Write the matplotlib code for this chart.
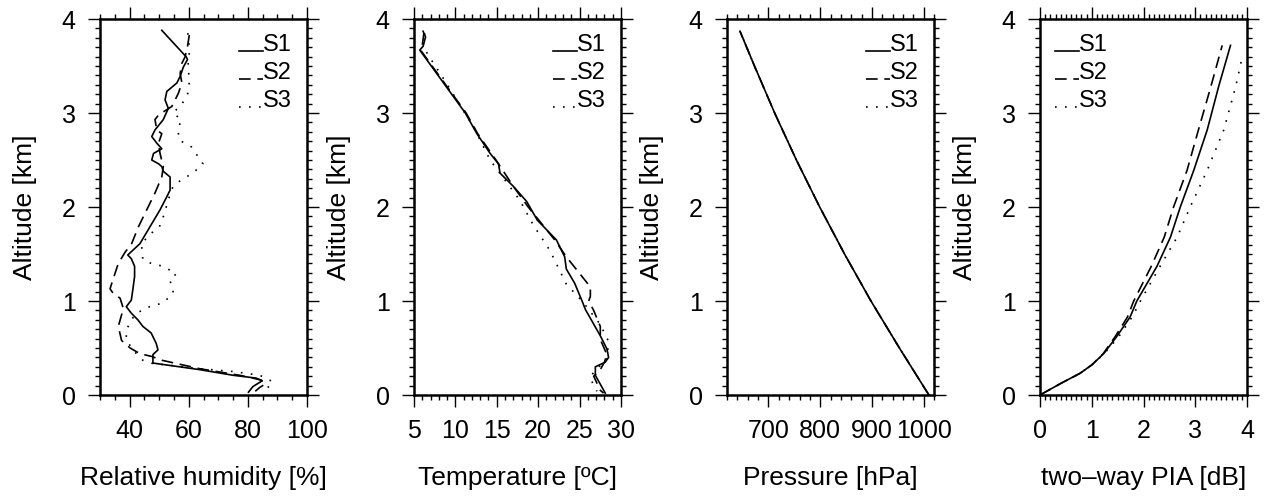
import matplotlib
matplotlib.use('Agg')
import matplotlib.pyplot as plt
from matplotlib.ticker import MultipleLocator
from matplotlib.legend_handler import HandlerLine2D

plt.rcParams['font.family'] = ['Liberation Sans', 'DejaVu Sans']

# Relative humidity profiles [%] vs altitude [km]
rh_s1_z = [3.88, 3.60, 3.57, 3.49, 3.39, 3.32, 3.23, 3.14, 3.05, 2.93, 2.82, 2.75,
           2.68, 2.62, 2.57, 2.50, 2.46, 2.43, 2.38, 2.32, 2.18, 2.11, 1.97, 1.79,
           1.61, 1.49, 1.45, 1.37, 1.26, 1.12, 1.01, 0.94, 0.87, 0.80, 0.73, 0.66,
           0.55, 0.48, 0.43, 0.34, 0.32, 0.27, 0.21, 0.18, 0.15, 0.09, 0.03]
rh_s1 = [50.9, 59.1, 59.6, 58.2, 57.1, 56.0, 52.6, 52.0, 53.1, 51.4, 48.6, 47.5,
         49.2, 50.9, 48.1, 47.5, 49.8, 50.9, 51.4, 53.7, 53.7, 52.6, 50.3, 46.9,
         43.5, 39.4, 40.6, 41.7, 41.7, 41.1, 40.6, 38.9, 40.6, 42.8, 44.5, 47.3,
         49.0, 49.6, 47.9, 47.9, 52.4, 63.7, 75.0, 82.8, 84.8, 81.7, 80.2]

rh_s2_z = [3.83, 3.71, 3.60, 3.53, 3.42, 3.32, 3.21, 3.07, 2.98, 2.93, 2.82, 2.78,
           2.68, 2.57, 2.43, 2.32, 2.15, 1.97, 1.79, 1.61, 1.52, 1.40, 1.19, 1.13,
           1.08, 1.03, 0.92, 0.73, 0.58, 0.50, 0.44, 0.41, 0.37, 0.28, 0.21, 0.16,
           0.12, 0.08, 0.04]
rh_s2 = [60.2, 59.6, 58.8, 57.7, 57.1, 57.7, 56.5, 54.3, 49.8, 48.6, 49.2, 50.9,
         49.8, 50.3, 51.4, 50.9, 48.6, 45.8, 43.0, 40.7, 38.5, 36.2, 34.0, 33.4,
         34.5, 36.8, 37.9, 36.2, 37.3, 40.2, 43.5, 47.5, 50.9, 63.7, 77.2, 84.5,
         86.0, 84.0, 82.5]

rh_s3_z = [3.85, 3.67, 3.49, 3.35, 3.21, 3.10, 3.00, 2.93, 2.82, 2.71, 2.64, 2.46,
           2.36, 2.29, 2.22, 2.07, 1.93, 1.79, 1.72, 1.61, 1.44, 1.40, 1.37, 1.29,
           1.22, 1.15, 1.08, 0.98, 0.94, 0.87, 0.80, 0.69, 0.59, 0.48, 0.37, 0.34,
           0.32, 0.28, 0.25, 0.21, 0.16, 0.12, 0.07, 0.03]
rh_s3 = [59.7, 60.3, 59.7, 60.3, 59.7, 57.8, 54.7, 57.5, 56.3, 56.9, 60.9, 64.8,
         61.4, 57.5, 54.7, 53.0, 51.8, 50.1, 47.3, 44.0, 44.5, 47.3, 51.3, 55.8,
         53.5, 54.7, 54.7, 51.3, 46.8, 42.3, 40.6, 38.9, 38.9, 41.1, 44.5, 46.8,
         52.4, 63.7, 75.0, 84.0, 87.4, 88.5, 86.2, 86.8]

# Temperature profiles [degC]
t_s1_z = [3.87, 3.81, 3.71, 3.67, 3.00, 2.78, 2.57, 2.46, 2.36, 2.22, 2.06, 1.86,
          1.65, 1.47, 1.34, 1.19, 1.00, 0.91, 0.63, 0.49, 0.40, 0.35, 0.30, 0.21, 0.02]
t_s1 = [6.1, 6.4, 6.1, 5.7, 11.2, 12.6, 14.2, 15.2, 15.4, 17.0, 18.6, 19.9,
        22.2, 23.2, 23.4, 24.4, 25.3, 25.7, 27.5, 28.3, 28.5, 28.1, 26.9, 26.9, 28.1]

t_s2_z = [3.85, 3.72, 3.67, 3.00, 2.78, 2.50, 2.22, 2.00, 1.65, 1.47, 1.15, 1.05,
          1.00, 0.90, 0.73, 0.59, 0.43, 0.35, 0.27, 0.20, 0.05, 0.02]
t_s2 = [6.2, 6.0, 5.8, 11.3, 12.7, 14.9, 17.0, 18.8, 22.0, 23.4, 26.3, 26.3,
        26.1, 26.7, 27.5, 27.5, 28.3, 28.0, 27.5, 26.7, 27.5, 27.9]

t_s3_z = [3.85, 3.71, 3.62, 3.32, 2.85, 2.64, 2.50, 2.07, 1.81, 1.54, 1.18, 1.00,
          0.75, 0.57, 0.39, 0.20, 0.09, 0.04]
t_s3 = [6.3, 6.1, 6.7, 8.9, 12.2, 13.4, 14.2, 17.8, 19.4, 21.4, 23.4, 25.3,
        27.5, 28.5, 28.3, 26.3, 26.7, 27.1]

# Pressure [hPa], same for all three soundings
p_z = [0.0, 0.5, 1.0, 1.5, 2.0, 2.5, 3.0, 3.5, 3.87]
p_hpa = [1010, 953, 898, 847, 799, 754, 712, 673, 645]

# two-way path integrated attenuation [dB]
pia_z = [0.0, 0.12, 0.23, 0.32, 0.44, 0.62, 0.83, 1.0, 1.37, 1.68, 2.0, 2.39,
         2.82, 3.28, 3.72]
pia_s1 = [0.0, 0.39, 0.77, 1.0, 1.23, 1.48, 1.74, 1.87, 2.26, 2.52, 2.71, 2.97,
          3.23, 3.45, 3.68]
pia_s2 = [0.0, 0.39, 0.77, 1.0, 1.22, 1.45, 1.69, 1.81, 2.15, 2.40, 2.58, 2.84,
          3.06, 3.30, 3.52]
pia_s3_z = [0.0, 0.12, 0.23, 0.32, 0.44, 0.62, 0.83, 1.0, 1.37, 1.68, 2.0, 2.39,
            2.82, 3.28, 3.58]
pia_s3 = [0.0, 0.39, 0.77, 1.0, 1.24, 1.52, 1.78, 1.94, 2.32, 2.65, 2.90, 3.23,
          3.55, 3.78, 3.90]

LABELS = ['S1', 'S2', 'S3']
STYLES = ['-', (0, (7, 4)), (0, (1, 5))]


class BaselineLine(HandlerLine2D):
    # NCL style legend: the sample line sits on the text baseline
    def create_artists(self, legend, orig_handle, xdescent, ydescent,
                       width, height, fontsize, trans):
        arts = super().create_artists(legend, orig_handle, xdescent, ydescent,
                                      width, height, fontsize, trans)
        for a in arts:
            a.set_ydata([0.02 * fontsize] * len(a.get_xdata()))
        return arts


fig = plt.figure(figsize=(12.64, 4.96), dpi=100)

lefts = [0.0791, 0.3275, 0.5752, 0.8228]
panels = [
    ([(rh_s1, rh_s1_z), (rh_s2, rh_s2_z), (rh_s3, rh_s3_z)],
     (30, 100), 20, 5, 'Relative humidity [%]', 'upper right'),
    ([(t_s1, t_s1_z), (t_s2, t_s2_z), (t_s3, t_s3_z)],
     (5, 30), 5, 1, 'Temperature [ºC]', 'upper right'),
    ([(p_hpa, p_z), (p_hpa, p_z), (p_hpa, p_z)],
     (620, 1020), 100, 20, 'Pressure [hPa]', 'upper right'),
    ([(pia_s1, pia_z), (pia_s2, pia_z), (pia_s3, pia_s3_z)],
     (0, 4), 1, 0.1, 'two\u2013way PIA [dB]', 'upper left'),
]

for left, (series, xlim, major, minor, xlabel, loc) in zip(lefts, panels):
    ax = fig.add_axes([left, 0.2036, 0.1638, 0.758])
    # S1 on top so identical profiles show as a solid line
    for (x, z), lab, ls, zo in zip(series, LABELS, STYLES, [3, 2, 2]):
        ax.plot(x, z, color='black', linestyle=ls, lw=1.2, label=lab, zorder=zo)

    ax.set_xlim(*xlim)
    ax.set_ylim(0, 4)
    ax.xaxis.set_major_locator(MultipleLocator(major))
    ax.xaxis.set_minor_locator(MultipleLocator(minor))
    ax.yaxis.set_major_locator(MultipleLocator(1))
    ax.yaxis.set_minor_locator(MultipleLocator(0.1))
    ax.tick_params(which='both', direction='out', top=True, right=True,
                   labelsize=18, width=1.0)
    ax.tick_params(which='major', length=8.5, pad=9)
    ax.tick_params(which='minor', length=3.5)
    for sp in ax.spines.values():
        sp.set_linewidth(1.8)

    ax.set_xlabel(xlabel, fontsize=19, labelpad=16)
    ax.set_ylabel('Altitude [km]', fontsize=19, labelpad=18)

    ax.legend(loc=loc, frameon=False, fontsize=17, handlelength=1.0,
              handletextpad=0.0, labelspacing=0.25, borderaxespad=0.25,
              handler_map={matplotlib.lines.Line2D: BaselineLine()})

fig.savefig('out.png', dpi=100)
